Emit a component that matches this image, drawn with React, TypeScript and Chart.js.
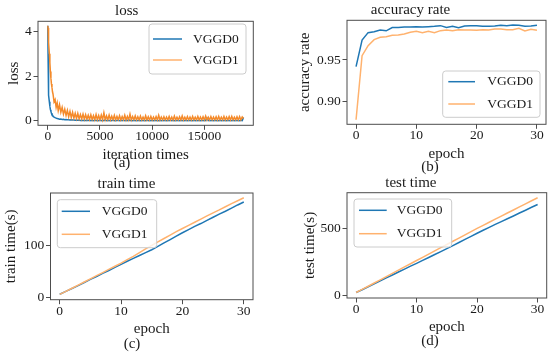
import React, { useEffect, useRef } from 'react';
import { Chart, registerables } from 'chart.js';

Chart.register(...registerables);

const FONT = "'Liberation Serif', 'Times New Roman', serif";
const TEXT = '#1a1a1a';
const FRAME = '#4d4d4d';
const BLUE = '#1f77b4';
const ORANGE_LIGHT = 'rgb(255,178,110)';
const ORANGE_DENSE = 'rgb(244,138,42)';

const seriesNames = ['VGGD0', 'VGGD1'];

// ---------- (a) loss ----------
const lossIter = [
  0, 25, 50, 75, 100, 150, 200, 250, 300, 350, 400, 450, 500, 600, 700, 800, 900,
  1000, 1125, 1250, 1375, 1500, 1625, 1750, 1875, 2000, 2125, 2250, 2375, 2500, 2625, 2750, 2875,
  3000, 3125, 3250, 3375, 3500, 3625, 3750, 3875, 4000, 4125, 4250, 4375, 4500, 4625, 4750, 4875,
  5000, 5125, 5250, 5375, 5500, 5625, 5750, 5875, 6000, 6125, 6250, 6375, 6500, 6625, 6750, 6875,
  7000, 7125, 7250, 7375, 7500, 7625, 7750, 7875, 8000, 8125, 8250, 8375, 8500, 8625, 8750, 8875,
  9000, 9125, 9250, 9375, 9500, 9625, 9750, 9875, 10000, 10125, 10250, 10375, 10500, 10625, 10750, 10875,
  11000, 11125, 11250, 11375, 11500, 11625, 11750, 11875, 12000, 12125, 12250, 12375, 12500, 12625, 12750, 12875,
  13000, 13125, 13250, 13375, 13500, 13625, 13750, 13875, 14000, 14125, 14250, 14375, 14500, 14625, 14750, 14875,
  15000, 15125, 15250, 15375, 15500, 15625, 15750, 15875, 16000, 16125, 16250, 16375, 16500, 16625, 16750, 16875,
  17000, 17125, 17250, 17375, 17500, 17625, 17750, 17875, 18000, 18125, 18250, 18375, 18500, 18625, 18750,
];
const lossVGGD0 = [
  4.25, 3.0, 2.0, 1.45, 1.15, 0.85, 0.65, 0.5, 0.42, 0.35, 0.3, 0.25, 0.21, 0.17, 0.14, 0.12, 0.1,
  0.09, 0.07, 0.08, 0.06, 0.07, 0.05, 0.06, 0.045, 0.05, 0.04, 0.045, 0.035, 0.04, 0.03, 0.035, 0.025,
  0.035, 0.02, 0.03, 0.02, 0.03, 0.015, 0.03, 0.015, 0.03, 0.01, 0.025, 0.01, 0.03, 0.01, 0.025, 0.01,
  0.03, 0.01, 0.025, 0.01, 0.04, 0.01, 0.025, 0.01, 0.025, 0.01, 0.03, 0.01, 0.025, 0.008, 0.03, 0.01,
  0.025, 0.008, 0.03, 0.01, 0.025, 0.008, 0.05, 0.01, 0.025, 0.008, 0.02, 0.008, 0.025, 0.008, 0.02, 0.008,
  0.025, 0.008, 0.02, 0.008, 0.03, 0.008, 0.02, 0.008, 0.02, 0.008, 0.025, 0.008, 0.02, 0.008, 0.025, 0.008,
  0.02, 0.008, 0.025, 0.008, 0.02, 0.008, 0.03, 0.008, 0.02, 0.008, 0.025, 0.008, 0.02, 0.008, 0.025, 0.008,
  0.02, 0.008, 0.025, 0.008, 0.02, 0.008, 0.025, 0.008, 0.02, 0.008, 0.025, 0.008, 0.02, 0.008, 0.025, 0.008,
  0.02, 0.008, 0.12, 0.008, 0.02, 0.008, 0.025, 0.008, 0.02, 0.008, 0.025, 0.008, 0.02, 0.008, 0.025, 0.008,
  0.02, 0.008, 0.025, 0.008, 0.02, 0.008, 0.025, 0.008, 0.02, 0.008, 0.025, 0.008, 0.02, 0.008, 0.15,
];
const lossVGGD1 = [
  4.25, 4.15, 4.0, 3.75, 3.5, 3.0, 2.6, 2.2, 1.9, 1.65, 1.5, 1.3, 1.2, 0.85, 0.95, 0.6, 0.8,
  0.45, 0.72, 0.38, 0.6, 0.3, 0.52, 0.24, 0.47, 0.18, 0.42, 0.14, 0.38, 0.12, 0.34, 0.1, 0.33,
  0.09, 0.28, 0.08, 0.3, 0.07, 0.27, 0.07, 0.25, 0.06, 0.27, 0.06, 0.23, 0.05, 0.28, 0.05, 0.24,
  0.05, 0.26, 0.05, 0.36, 0.05, 0.22, 0.05, 0.26, 0.05, 0.21, 0.05, 0.24, 0.04, 0.2, 0.05, 0.23,
  0.04, 0.19, 0.05, 0.25, 0.04, 0.2, 0.04, 0.3, 0.04, 0.19, 0.05, 0.22, 0.04, 0.18, 0.04, 0.21,
  0.04, 0.17, 0.04, 0.23, 0.04, 0.18, 0.04, 0.2, 0.04, 0.17, 0.04, 0.19, 0.04, 0.25, 0.04, 0.17,
  0.04, 0.18, 0.04, 0.17, 0.04, 0.2, 0.04, 0.17, 0.04, 0.21, 0.04, 0.16, 0.04, 0.18, 0.04, 0.22,
  0.04, 0.16, 0.04, 0.19, 0.04, 0.17, 0.04, 0.2, 0.04, 0.16, 0.04, 0.2, 0.04, 0.17, 0.04, 0.18,
  0.04, 0.21, 0.04, 0.16, 0.04, 0.19, 0.04, 0.17, 0.04, 0.18, 0.04, 0.2, 0.04, 0.16, 0.04, 0.2,
  0.04, 0.17, 0.04, 0.19, 0.04, 0.2, 0.04, 0.16, 0.04, 0.18, 0.04, 0.19, 0.04, 0.17, 0.1,
];
const lossXTicks = [0, 5000, 10000, 15000];
const lossXTickLabels = ['0', '5000', '10000', '15000'];
const lossYTicks = [0, 2, 4];
const lossYTickLabels = ['0', '2', '4'];

// ---------- epochs (b, c, d) ----------
const epochs = [0, 1, 2, 3, 4, 5, 6, 7, 8, 9, 10, 11, 12, 13, 14, 15, 16, 17, 18, 19, 20, 21, 22, 23, 24, 25, 26, 27, 28, 29, 30];
const epochTicks = [0, 10, 20, 30];
const epochTickLabels = ['0', '10', '20', '30'];

// ---------- (b) accuracy ----------
const accVGGD0 = [
  0.942, 0.974, 0.9828, 0.984, 0.986, 0.985, 0.989, 0.989, 0.9896, 0.9896, 0.99, 0.9896, 0.99, 0.9904, 0.9912, 0.989,
  0.9904, 0.9888, 0.9908, 0.9912, 0.9912, 0.9904, 0.9904, 0.9908, 0.9916, 0.9912, 0.992, 0.9916, 0.9904, 0.9908, 0.9916,
];
const accVGGD1 = [
  0.8784, 0.9552, 0.9672, 0.9744, 0.9772, 0.978, 0.9796, 0.98, 0.9812, 0.9832, 0.9844, 0.9828, 0.9844, 0.9828, 0.9852, 0.986,
  0.9852, 0.9864, 0.986, 0.986, 0.9856, 0.9864, 0.986, 0.9872, 0.9872, 0.9864, 0.9864, 0.988, 0.9848, 0.9868, 0.9856,
];
const accYTicks = [0.9, 0.95];
const accYTickLabels = ['0.90', '0.95'];

// ---------- (c) train time ----------
const trainVGGD0 = [
  6.5, 12, 17.5, 23, 29, 35, 40.5, 46.5, 52, 58, 63.5, 69.5, 75, 80.5, 86, 91.5,
  98, 104.5, 111, 117.5, 124, 130, 136, 141.5, 147.5, 153.5, 159.5, 165, 171, 177, 182.6,
];
const trainVGGD1 = [
  6.5, 12.2, 18, 24, 30, 36, 42, 48, 54, 60, 66, 72.5, 79, 86, 93, 100,
  106.5, 113, 119.5, 126, 132, 138, 144, 150, 156, 162, 167.5, 173.5, 179.5, 185, 190.8,
];
const trainYTicks = [0, 100];
const trainYTickLabels = ['0', '100'];

// ---------- (d) test time ----------
const testVGGD0 = [
  22, 43, 65, 87, 109, 131, 153, 175, 197, 219, 240, 262, 284, 306, 328, 350,
  373, 396, 419, 442, 465, 487, 509, 531, 552, 573, 594, 616, 637, 659, 680,
];
const testVGGD1 = [
  22, 45, 69, 93, 117, 141, 165, 189, 213, 237, 261, 285, 309, 333, 357, 381,
  405, 429, 453, 477, 501, 524, 547, 570, 593, 616, 639, 662, 685, 708, 730,
];
const testYTicks = [0, 500];
const testYTickLabels = ['0', '500'];

type Panel = {
  left: number; top: number; w: number; h: number;
  title: string; xLabel: string; yLabel: string; caption: string;
  xs: number[]; ys: number[][]; colors: string[]; legendColors: string[];
  xMin: number; xMax: number; yMin: number; yMax: number;
  xTicks: number[]; xTickLabels: string[]; yTicks: number[]; yTickLabels: string[];
  padRight: number; yAxisW: number; xAxisH: number;
  titleTop: number; titleBottom: number; yTitlePad: number; xTitlePad: number;
  cap: [number, number];
  legend: { x: number; y: number; w: number; h: number; rows: number[]; line: [number, number]; textX: number };
};

const panels: Panel[] = [
  {
    left: 0, top: 0, w: 275, h: 177,
    title: 'loss', xLabel: 'iteration times', yLabel: 'loss', caption: '(a)',
    xs: lossIter, ys: [lossVGGD0, lossVGGD1], colors: [BLUE, ORANGE_DENSE], legendColors: [BLUE, ORANGE_LIGHT],
    xMin: -937.5, xMax: 19687.5, yMin: -0.2, yMax: 4.45,
    xTicks: lossXTicks, xTickLabels: lossXTickLabels, yTicks: lossYTicks, yTickLabels: lossYTickLabels,
    padRight: 21.7, yAxisW: 38, xAxisH: 51.7,
    titleTop: 3.9, titleBottom: 2.4, yTitlePad: 6.2, xTitlePad: 14.8,
    cap: [122, 163.5],
    legend: { x: 149, y: 24, w: 97, h: 50, rows: [39, 60], line: [153, 182], textX: 193 },
  },
  {
    left: 275, top: 0, w: 275, h: 177,
    title: 'accuracy rate', xLabel: 'epoch', yLabel: 'accuracy rate', caption: '(b)',
    xs: epochs, ys: [accVGGD0, accVGGD1], colors: [BLUE, ORANGE_LIGHT], legendColors: [BLUE, ORANGE_LIGHT],
    xMin: -1.5, xMax: 31.5, yMin: 0.8729, yMax: 0.9976,
    xTicks: epochTicks, xTickLabels: epochTickLabels, yTicks: accYTicks, yTickLabels: accYTickLabels,
    padRight: 4, yAxisW: 72, xAxisH: 52.7,
    titleTop: 2.6, titleBottom: 2.7, yTitlePad: 22.9, xTitlePad: 15.5,
    cap: [155, 167.5],
    legend: { x: 167.7, y: 71, w: 97.3, h: 46.3, rows: [81.7, 104], line: [173.3, 200], textX: 212.3 },
  },
  {
    left: 0, top: 170, w: 275, h: 184,
    title: 'train time', xLabel: 'epoch', yLabel: 'train time(s)', caption: '(c)',
    xs: epochs, ys: [trainVGGD0, trainVGGD1], colors: [BLUE, ORANGE_LIGHT], legendColors: [BLUE, ORANGE_LIGHT],
    xMin: -1.5, xMax: 31.5, yMin: -3.8, yMax: 199.8,
    xTicks: epochTicks, xTickLabels: epochTickLabels, yTicks: trainYTicks, yTickLabels: trainYTickLabels,
    padRight: 22, yAxisW: 50.5, xAxisH: 54.3,
    titleTop: 6.5, titleBottom: 1.5, yTitlePad: 3.6, xTitlePad: 17.5,
    cap: [132, 174],
    legend: { x: 57.3, y: 29.7, w: 99.4, h: 48, rows: [41.3, 64.3], line: [61.7, 90], textX: 101.7 },
  },
  {
    left: 275, top: 170, w: 275, h: 184,
    title: 'test time', xLabel: 'epoch', yLabel: 'test time(s)', caption: '(d)',
    xs: epochs, ys: [testVGGD0, testVGGD1], colors: [BLUE, ORANGE_LIGHT], legendColors: [BLUE, ORANGE_LIGHT],
    xMin: -1.5, xMax: 31.5, yMin: -19, yMax: 768,
    xTicks: epochTicks, xTickLabels: epochTickLabels, yTicks: testYTicks, yTickLabels: testYTickLabels,
    padRight: 3.3, yAxisW: 72, xAxisH: 56,
    titleTop: 5.5, titleBottom: 2.2, yTitlePad: 27.2, xTitlePad: 19.5,
    cap: [155, 171.4],
    legend: { x: 79, y: 29, w: 97.7, h: 48, rows: [40.3, 63.7], line: [84, 111.7], textX: 121.7 },
  },
];

function makeDecor(p: Panel) {
  return {
    id: 'decor',
    afterDatasetsDraw(chart: any) {
      const { ctx, chartArea: a } = chart;
      ctx.save();
      ctx.strokeStyle = FRAME;
      ctx.lineWidth = 1;
      ctx.strokeRect(a.left, a.top, a.right - a.left, a.bottom - a.top);
      const L = p.legend;
      ctx.beginPath();
      ctx.roundRect(L.x, L.y, L.w, L.h, 3);
      ctx.fillStyle = 'rgba(255,255,255,0.8)';
      ctx.fill();
      ctx.strokeStyle = '#cccccc';
      ctx.lineWidth = 1;
      ctx.stroke();
      chart.data.datasets.forEach((ds: any, i: number) => {
        const y = L.rows[i];
        ctx.beginPath();
        ctx.moveTo(L.line[0], y);
        ctx.lineTo(L.line[1], y);
        ctx.strokeStyle = p.legendColors[i];
        ctx.lineWidth = 1.5;
        ctx.stroke();
        ctx.fillStyle = TEXT;
        ctx.font = `13.5px ${FONT}`;
        ctx.textAlign = 'left';
        ctx.textBaseline = 'middle';
        ctx.fillText(ds.label, L.textX, y);
      });
      ctx.restore();
    },
    afterDraw(chart: any) {
      const { ctx } = chart;
      ctx.save();
      ctx.fillStyle = TEXT;
      ctx.font = `15px ${FONT}`;
      ctx.textAlign = 'center';
      ctx.textBaseline = 'middle';
      ctx.fillText(p.caption, p.cap[0], p.cap[1]);
      ctx.restore();
    },
  };
}

function makeConfig(p: Panel): any {
  const tickFont = { family: FONT, size: 13.5, lineHeight: 1 };
  const labelFont = { family: FONT, size: 15, lineHeight: 1 };
  const grid = {
    drawOnChartArea: false, drawTicks: true, tickLength: 4.5, tickWidth: 1,
    tickColor: FRAME, color: FRAME,
  };
  return {
    type: 'line',
    data: {
      datasets: p.ys.map((vals, i) => ({
        label: seriesNames[i],
        data: vals.map((v, j) => ({ x: p.xs[j], y: v })),
        borderColor: p.colors[i],
        backgroundColor: p.colors[i],
        borderWidth: 1.5,
        pointRadius: 0,
        tension: 0,
        fill: false,
        order: i === 0 ? 1 : 0,
      })),
    },
    options: {
      animation: false,
      responsive: false,
      maintainAspectRatio: false,
      layout: { padding: { left: 0, top: 0, right: p.padRight, bottom: 0 } },
      plugins: {
        legend: { display: false },
        tooltip: { enabled: false },
        title: {
          display: true, text: p.title, color: TEXT,
          font: { ...labelFont, weight: 'normal' },
          padding: { top: p.titleTop, bottom: p.titleBottom },
        },
      },
      scales: {
        x: {
          type: 'linear', min: p.xMin, max: p.xMax,
          afterBuildTicks: (s: any) => { s.ticks = p.xTicks.map((v) => ({ value: v })); },
          afterFit: (s: any) => { s.height = p.xAxisH; },
          ticks: {
            font: tickFont, color: TEXT, padding: 0.3, maxRotation: 0, autoSkip: false,
            callback: (_v: any, i: number) => p.xTickLabels[i],
          },
          grid, border: { display: false },
          title: { display: true, text: p.xLabel, color: TEXT, font: labelFont, padding: { top: 0, bottom: p.xTitlePad } },
        },
        y: {
          type: 'linear', min: p.yMin, max: p.yMax,
          afterBuildTicks: (s: any) => { s.ticks = p.yTicks.map((v) => ({ value: v })); },
          afterFit: (s: any) => { s.width = p.yAxisW; },
          ticks: {
            font: tickFont, color: TEXT, padding: 1.8, autoSkip: false,
            callback: (_v: any, i: number) => p.yTickLabels[i],
          },
          grid, border: { display: false },
          title: { display: true, text: p.yLabel, color: TEXT, font: labelFont, padding: { top: p.yTitlePad, bottom: 0 } },
        },
      },
    },
    plugins: [makeDecor(p)],
  };
}

function PanelChart({ p }: { p: Panel }) {
  const ref = useRef<HTMLCanvasElement | null>(null);
  useEffect(() => {
    if (!ref.current) return;
    const chart = new Chart(ref.current, makeConfig(p));
    return () => chart.destroy();
  }, [p]);
  return (
    <canvas
      ref={ref}
      width={p.w}
      height={p.h}
      style={{ position: 'absolute', left: p.left, top: p.top, width: p.w, height: p.h }}
    />
  );
}

export default function App() {
  return (
    <div style={{ position: 'absolute', left: 0, top: 0, width: 550, height: 354, background: '#ffffff', overflow: 'hidden' }}>
      {panels.map((p, i) => (
        <PanelChart key={i} p={p} />
      ))}
    </div>
  );
}
